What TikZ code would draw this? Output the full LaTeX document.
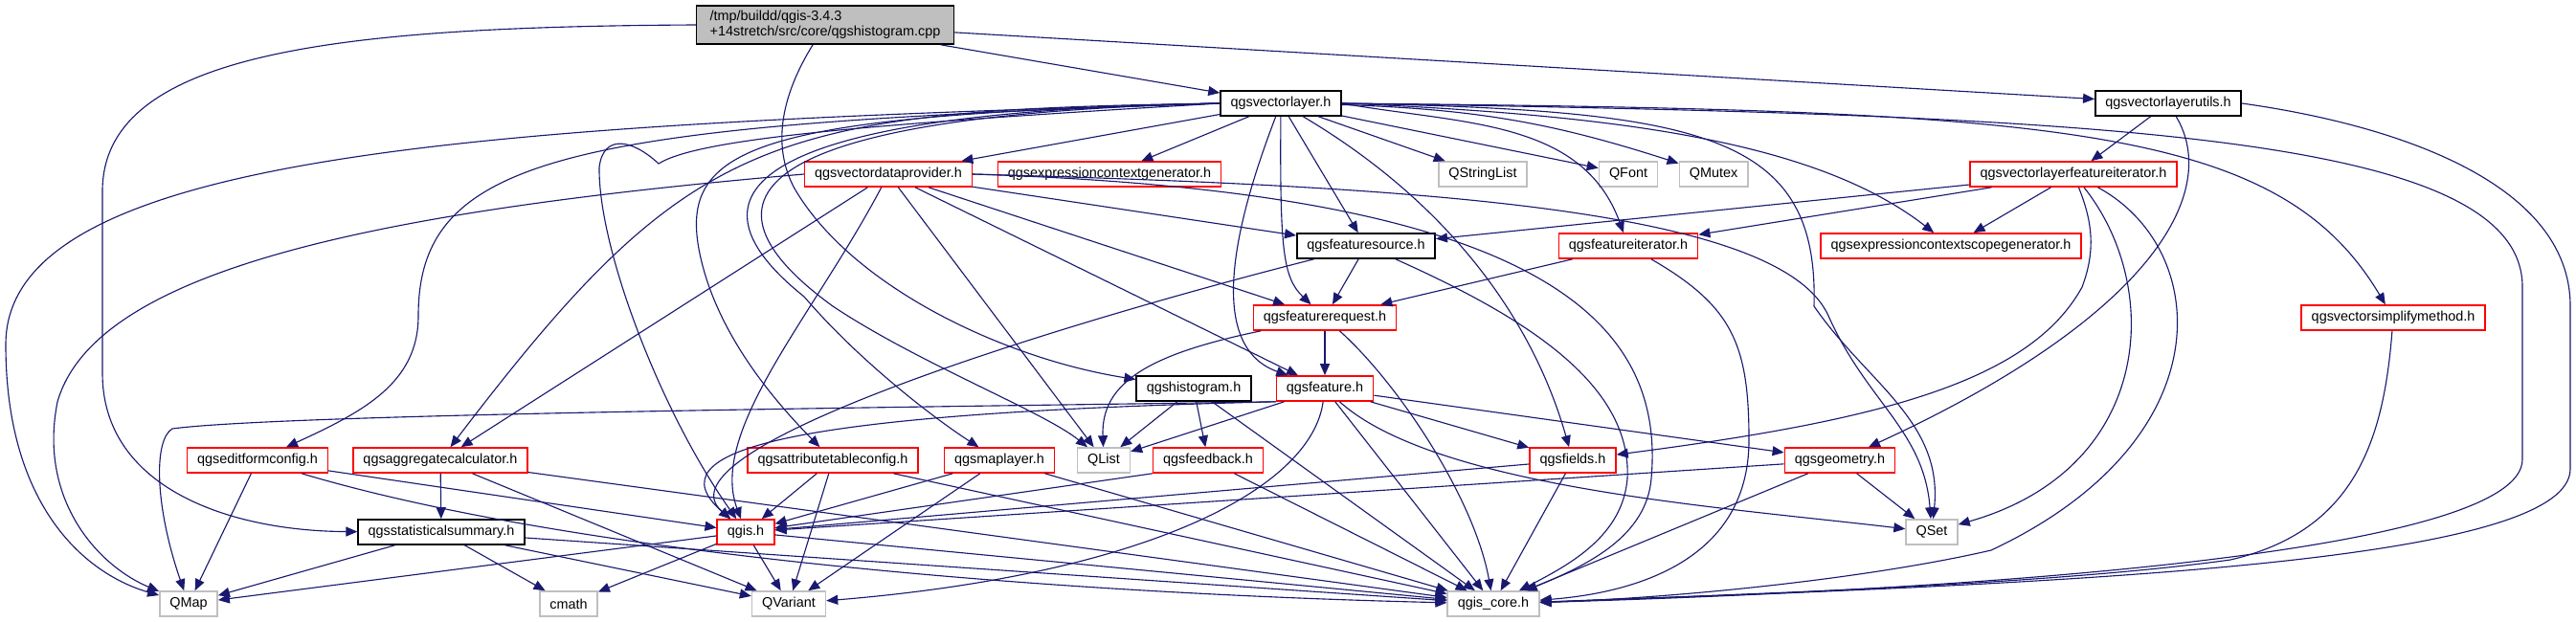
\documentclass[tikz,border=0pt]{standalone}
\usepackage{fontspec}
\setmainfont{Liberation Sans}
\usetikzlibrary{arrows.meta}
\definecolor{edgeblue}{HTML}{191970}
\definecolor{boxred}{HTML}{FF0000}
\definecolor{boxgray}{HTML}{BFBFBF}

\begin{document}
\begin{tikzpicture}[
    font=\fontsize{4.1}{4.6}\selectfont,
    file/.style={rectangle, draw=black, line width=0.45pt, fill=white, inner xsep=0.105cm, inner ysep=0pt, minimum height=0.26cm},
    main_file/.style={file, fill=boxgray, align=left, inner xsep=0.14cm, minimum height=0.40cm},
    red_file/.style={file, draw=boxred},
    sys_file/.style={file, draw=boxgray},
    edge_style/.style={draw=edgeblue, line width=0.32pt, -{Triangle[length=0.12cm, width=0.10cm]}}
]

\path[use as bounding box, fill=white] (0,0) rectangle (26.91,-6.49);

% Level 0: source file
\node[main_file] (cpp) at (8.62,-0.26) {/tmp/buildd/qgis-3.4.3\\+14stretch/src/core/qgshistogram.cpp};

% Level 1
\node[file] (vl) at (13.38,-1.08) {qgsvectorlayer.h};
\node[file] (vlu) at (22.65,-1.08) {qgsvectorlayerutils.h};

% Level 2
\node[red_file] (vdp) at (9.28,-1.82) {qgsvectordataprovider.h};
\node[red_file] (ecg) at (11.59,-1.82) {qgsexpressioncontextgenerator.h};
\node[sys_file] (qsl) at (15.49,-1.82) {QStringList};
\node[sys_file] (qfont) at (17.01,-1.82) {QFont};
\node[sys_file] (qmutex) at (17.90,-1.82) {QMutex};
\node[red_file] (vlfi) at (21.66,-1.82) {qgsvectorlayerfeatureiterator.h};

% Level 3
\node[file] (fsrc) at (14.27,-2.57) {qgsfeaturesource.h};
\node[red_file] (fit) at (17.01,-2.57) {qgsfeatureiterator.h};
\node[red_file] (ecsg) at (20.38,-2.57) {qgsexpressioncontextscopegenerator.h};

% Level 4
\node[red_file] (freq) at (13.84,-3.32) {qgsfeaturerequest.h};
\node[red_file] (vsm) at (25.00,-3.32) {qgsvectorsimplifymethod.h};

% Level 5
\node[file] (hist) at (12.47,-4.06) {qgshistogram.h};
\node[red_file] (feat) at (13.84,-4.06) {qgsfeature.h};

% Level 6
\node[red_file] (efc) at (2.69,-4.81) {qgseditformconfig.h};
\node[red_file] (agg) at (4.60,-4.81) {qgsaggregatecalculator.h};
\node[red_file] (atc) at (8.70,-4.81) {qgsattributetableconfig.h};
\node[red_file] (ml) at (10.44,-4.81) {qgsmaplayer.h};
\node[sys_file] (qlist) at (11.53,-4.81) {QList};
\node[red_file] (fb) at (12.62,-4.81) {qgsfeedback.h};
\node[red_file] (flds) at (16.43,-4.81) {qgsfields.h};
\node[red_file] (geom) at (19.22,-4.81) {qgsgeometry.h};

% Level 7
\node[file] (stat) at (4.61,-5.56) {qgsstatisticalsummary.h};
\node[red_file] (qgis) at (7.79,-5.56) {qgis.h};
\node[sys_file] (qset) at (20.18,-5.56) {QSet};

% Level 8: leaves
\node[sys_file] (qmap) at (1.97,-6.31) {QMap};
\node[sys_file] (cmath) at (5.94,-6.31) {cmath};
\node[sys_file] (qvar) at (8.24,-6.31) {QVariant};
\node[sys_file] (core) at (15.60,-6.31) {qgis\_core.h};

% Connections: source file
\draw[edge_style] (cpp) -- (vl);
\draw[edge_style] (cpp) -- (vlu);
\draw[edge_style] (cpp) .. controls (8.10,-1.10) and (8.10,-1.60) .. (8.30,-1.97) .. controls (8.90,-3.00) and (10.50,-3.75) .. (hist);
\draw[edge_style] (cpp.west) .. controls (3.50,-0.28) and (1.07,-0.55) .. (1.07,-2.00) -- (1.07,-3.90) .. controls (1.07,-5.10) and (2.40,-5.55) .. (stat);

% Connections: qgsvectorlayer.h
\draw[edge_style] (vl) -- (vdp);
\draw[edge_style] (vl) -- (ecg);
\draw[edge_style] (vl) -- (qsl);
\draw[edge_style] (vl) -- (qfont);
\draw[edge_style] (vl) to[bend left=8] (qmutex);
\draw[edge_style] (vl) -- (fsrc);
\draw[edge_style] (vl.east) to[out=-10, in=110] (fit);
\draw[edge_style] (vl) .. controls (13.37,-2.60) and (13.40,-2.90) .. (freq);
\draw[edge_style] (vl) .. controls (12.95,-2.20) and (12.55,-3.60) .. (feat);
\draw[edge_style] (vl) .. controls (15.10,-2.10) and (16.00,-3.30) .. (flds);
\draw[edge_style] (vl.east) .. controls (17.00,-1.20) and (19.00,-1.50) .. (ecsg);
\draw[edge_style] (vl.east) .. controls (21.50,-1.15) and (23.80,-1.30) .. (vsm);
\draw[edge_style] (vl.east) .. controls (17.80,-1.15) and (19.00,-1.40) .. (18.95,-3.20) .. controls (19.50,-4.00) and (20.30,-4.40) .. (qset);
\draw[edge_style] (vl.east) .. controls (22.00,-1.20) and (26.35,-1.40) .. (26.35,-3.00) -- (26.35,-4.80) .. controls (26.35,-5.75) and (21.00,-6.15) .. (core);
\draw[edge_style] (vl.west) .. controls (5.00,-1.30) and (0.06,-1.60) .. (0.06,-3.60) .. controls (0.06,-5.30) and (0.90,-6.00) .. (qmap);
\draw[edge_style] (vl.west) .. controls (6.00,-1.30) and (4.37,-1.60) .. (4.37,-3.30) .. controls (4.37,-4.00) and (3.80,-4.30) .. (efc);
\draw[edge_style] (vl.west) .. controls (8.00,-1.15) and (7.20,-1.40) .. (agg);
\draw[edge_style] (vl.west) .. controls (9.00,-1.30) and (7.30,-1.45) .. (6.88,-1.71) .. controls (6.60,-1.45) and (6.30,-1.40) .. (6.26,-1.75) .. controls (6.25,-2.60) and (6.90,-4.30) .. (qgis);
\draw[edge_style] (vl.west) .. controls (8.00,-1.20) and (7.10,-1.50) .. (7.30,-2.60) .. controls (7.45,-3.40) and (8.00,-4.10) .. (atc);
\draw[edge_style] (vl.west) .. controls (7.00,-1.18) and (7.40,-2.30) .. (8.40,-3.10) .. controls (9.00,-3.80) and (9.80,-4.40) .. (ml);
\draw[edge_style] (vl.west) .. controls (6.90,-1.22) and (7.60,-2.40) .. (8.70,-3.20) .. controls (9.60,-3.80) and (10.90,-4.30) .. (qlist);

% Connections: qgsvectorlayerutils.h
\draw[edge_style] (vlu) -- (vlfi);
\draw[edge_style] (vlu) .. controls (23.20,-2.00) and (22.50,-3.30) .. (geom);
\draw[edge_style] (vlu.east) .. controls (25.00,-1.30) and (26.85,-1.90) .. (26.85,-3.20) -- (26.85,-4.90) .. controls (26.85,-5.90) and (21.50,-6.10) .. (core);

% Connections: qgsvectordataprovider.h
\draw[edge_style] (vdp.west) .. controls (4.00,-2.20) and (1.00,-2.80) .. (0.60,-4.20) .. controls (0.40,-5.20) and (1.00,-5.90) .. (qmap);
\draw[edge_style] (vdp) -- (agg);
\draw[edge_style] (vdp) .. controls (8.50,-3.30) and (7.40,-4.50) .. (qgis);
\draw[edge_style] (vdp) -- (qlist);
\draw[edge_style] (vdp) -- (feat);
\draw[edge_style] (vdp) -- (freq);
\draw[edge_style] (vdp) -- (fsrc);
\draw[edge_style] (vdp.east) .. controls (15.00,-1.95) and (18.60,-2.20) .. (19.10,-3.30) .. controls (19.50,-4.20) and (20.10,-4.50) .. (qset);
\draw[edge_style] (vdp.east) .. controls (16.00,-2.00) and (17.40,-3.30) .. (17.25,-5.00) .. controls (17.20,-5.60) and (16.60,-5.90) .. (core);

% Connections: qgsvectorlayerfeatureiterator.h
\draw[edge_style] (vlfi) -- (fsrc);
\draw[edge_style] (vlfi) -- (fit);
\draw[edge_style] (vlfi) -- (ecsg);
\draw[edge_style] (vlfi) .. controls (21.85,-2.30) and (21.90,-2.60) .. (21.75,-3.00) .. controls (21.20,-4.00) and (19.60,-4.40) .. (flds);
\draw[edge_style] (vlfi) .. controls (22.60,-3.00) and (22.50,-4.90) .. (qset);
\draw[edge_style] (vlfi) .. controls (23.10,-2.60) and (23.25,-4.60) .. (20.80,-5.75) .. controls (19.50,-6.05) and (17.50,-6.25) .. (core);

% Connections: feature source / iterator / request
\draw[edge_style] (fsrc) -- (freq);
\draw[edge_style] (fsrc) .. controls (11.00,-3.40) and (6.80,-4.70) .. (qgis);
\draw[edge_style] (fsrc) .. controls (15.90,-3.30) and (17.05,-4.00) .. (17.00,-5.00) .. controls (16.95,-5.60) and (16.40,-5.90) .. (core);
\draw[edge_style] (fit) -- (freq);
\draw[edge_style] (fit) .. controls (18.10,-3.20) and (18.27,-3.60) .. (18.27,-4.60) .. controls (18.27,-5.90) and (17.00,-6.20) .. (core);
\draw[edge_style] (freq) .. controls (12.00,-3.70) and (11.50,-4.00) .. (qlist);
\draw[edge_style] (freq) -- (feat);
\draw[edge_style] (freq) .. controls (14.60,-4.00) and (15.40,-5.20) .. (core);
\draw[edge_style] (vsm) .. controls (24.90,-4.60) and (24.60,-5.55) .. (23.30,-5.85) .. controls (21.50,-6.10) and (18.50,-6.20) .. (core);

% Connections: qgshistogram.h / qgsfeature.h
\draw[edge_style] (hist) -- (qlist);
\draw[edge_style] (hist) -- (fb);
\draw[edge_style] (hist) -- (core);
\draw[edge_style] (feat) -- (qlist);
\draw[edge_style] (feat) -- (flds);
\draw[edge_style] (feat) -- (geom);
\draw[edge_style] (feat) .. controls (15.00,-5.10) and (18.00,-5.30) .. (qset);
\draw[edge_style] (feat.south west) .. controls (10.00,-4.25) and (3.00,-4.32) .. (1.80,-4.48) .. controls (1.60,-4.60) and (1.62,-5.30) .. (qmap);
\draw[edge_style] (feat.south west) .. controls (8.20,-4.32) and (6.80,-4.70) .. (qgis);
\draw[edge_style] (feat) .. controls (13.70,-5.10) and (12.00,-6.00) .. (qvar);
\draw[edge_style] (feat) -- (core);

% Connections: level 6
\draw[edge_style] (efc) -- (qmap);
\draw[edge_style] (efc) -- (qgis);
\draw[edge_style] (efc) .. controls (6.00,-5.80) and (11.00,-6.20) .. (core);
\draw[edge_style] (agg) -- (stat);
\draw[edge_style] (agg) -- (qvar);
\draw[edge_style] (agg) -- (core);
\draw[edge_style] (atc) -- (qgis);
\draw[edge_style] (atc) -- (qvar);
\draw[edge_style] (atc) -- (core);
\draw[edge_style] (ml) -- (qgis);
\draw[edge_style] (ml) -- (qvar);
\draw[edge_style] (ml) -- (core);
\draw[edge_style] (fb.south west) -- (qgis);
\draw[edge_style] (fb) -- (core);
\draw[edge_style] (flds) -- (qgis);
\draw[edge_style] (flds) -- (core);
\draw[edge_style] (geom) -- (qgis);
\draw[edge_style] (geom) -- (qset);
\draw[edge_style] (geom) -- (core);

% Connections: level 7
\draw[edge_style] (stat) -- (qmap);
\draw[edge_style] (stat) -- (cmath);
\draw[edge_style] (stat) -- (qvar);
\draw[edge_style] (stat) -- (core);
\draw[edge_style] (qgis) -- (qmap);
\draw[edge_style] (qgis) -- (cmath);
\draw[edge_style] (qgis) -- (qvar);
\draw[edge_style] (qgis) -- (core);

\end{tikzpicture}
\end{document}
